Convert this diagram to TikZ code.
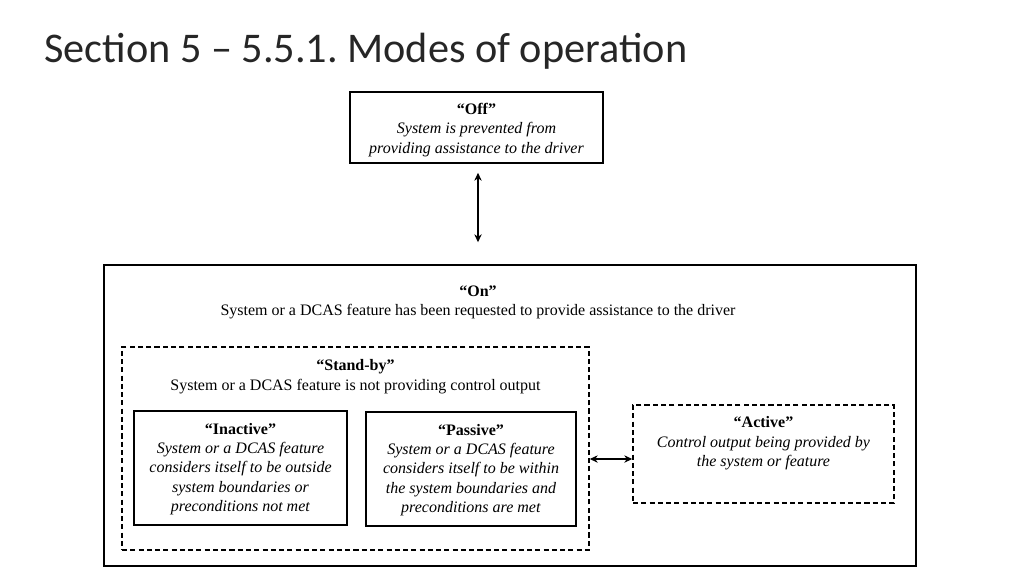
\documentclass[tikz,border=0pt]{standalone}
\usepackage{fontspec}
\setmainfont{Liberation Serif}
\newfontfamily\titlefont{Carlito}
\frenchspacing
\usetikzlibrary{arrows.meta,calc}
\begin{document}
\begin{tikzpicture}[x=0.75pt,y=-0.75pt,
  solidbox/.style={draw=black, line width=1.1pt, inner sep=0pt, align=center,
    font=\fontsize{12}{14.5}\selectfont},
  dashbox/.style={solidbox, dash pattern=on 3.8pt off 2.4pt},
  txt/.style={inner sep=0pt, align=center, font=\fontsize{12}{14.5}\selectfont},
  arr/.style={{Stealth[length=6pt,width=5.5pt]}-{Stealth[length=6pt,width=5.5pt]}, line width=0.9pt}]
\useasboundingbox (0,0) rectangle (1024,576);
\node[anchor=base west, inner sep=0pt, text=black!85, font=\titlefont\fontsize{31.7}{36}\selectfont] (title) at (44,62) {Section 5 – 5.5.1. Modes of operation};

\node[solidbox, minimum width=253*0.75pt, minimum height=71*0.75pt] (off) at (476.5,127.5) {};
\node[txt] (offtxt) at (476.5,130)
  {\textbf{“Off”}\\\textit{System is prevented from}\\\textit{providing assistance to the driver}};

\node[solidbox, minimum width=812*0.75pt, minimum height=301*0.75pt] (on) at (510,415.5) {};
\node[txt, anchor=north] (ontxt) at (478,285.5)
  {\textbf{“On”}\\System or a DCAS feature has been requested to provide assistance to the driver};

\node[dashbox, minimum width=467*0.75pt, minimum height=203*0.75pt] (standby) at (355.5,448.5) {};
\node[txt, anchor=north] (standbytxt) at (355.5,359.5)
  {\textbf{“Stand-by”}\\System or a DCAS feature is not providing control output};

\node[solidbox, minimum width=213*0.75pt, minimum height=114*0.75pt] (inactive) at (240.5,468) {};
\node[txt] (inactivetxt) at (240.5,469)
  {\textbf{“Inactive”}\\\textit{System or a DCAS feature}\\\textit{considers itself to be outside}\\\textit{system boundaries or}\\\textit{preconditions not met}};

\node[solidbox, minimum width=210*0.75pt, minimum height=114*0.75pt] (passive) at (471,469) {};
\node[txt] (passivetxt) at (471,470)
  {\textbf{“Passive”}\\\textit{System or a DCAS feature}\\\textit{considers itself to be within}\\\textit{the system boundaries and}\\\textit{preconditions are met}};

\node[dashbox, minimum width=261*0.75pt, minimum height=98*0.75pt] (active) at (763.5,454) {};
\node[txt, anchor=north] (activetxt) at (763.5,416.5)
  {\textbf{“Active”}\\\textit{Control output being provided by}\\\textit{the system or feature}};

\draw[arr, shorten <=9*0.75pt, shorten >=22*0.75pt] (off.south -| 478,0) -- (on.north -| 478,0);
\coordinate (harr) at (611,459);
\draw[arr] (standby.east |- harr) -- (active.west |- harr);
\end{tikzpicture}
\end{document}
